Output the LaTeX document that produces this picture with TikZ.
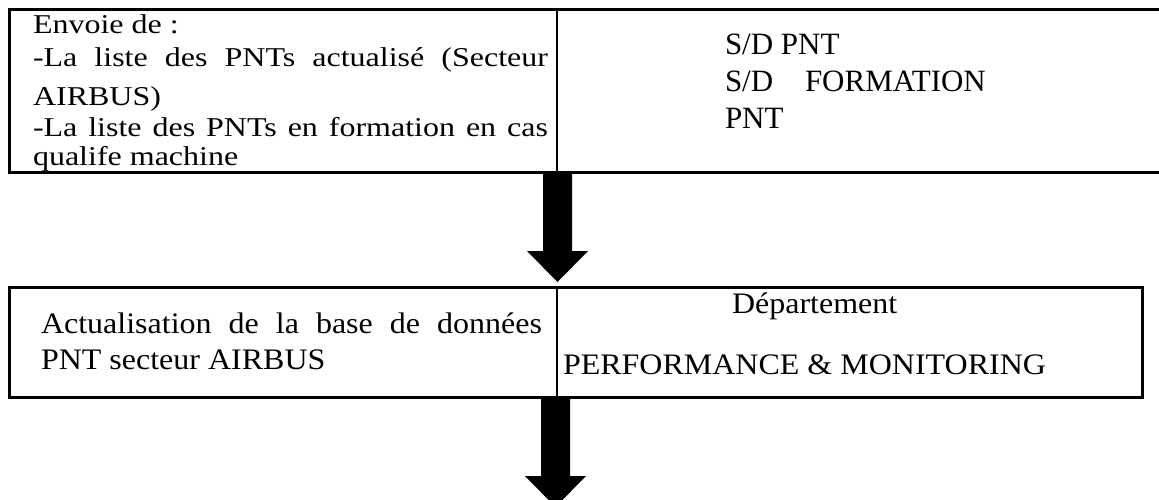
\documentclass[tikz,border=0pt]{standalone}
\usepackage{fontspec}
\setmainfont{Liberation Serif}
\usepackage{graphicx}
\begin{document}
\begin{tikzpicture}[x=1pt,y=-1pt,
  frame/.style={draw, line width=3pt, rectangle, inner sep=0pt, outer sep=0pt, anchor=north west},
  divider/.style={line width=2pt},
  txt/.style={anchor=base west, inner sep=0pt, outer sep=0pt, font=\fontsize{32}{32}\selectfont},
  txtr/.style={txt, font=\fontsize{31}{31}\selectfont},
  fatarrow/.style={fill=black}
]
\useasboundingbox (0,0) rectangle (1159,500);
\clip (0,0) rectangle (1159,500);

% boxes
\node[frame, minimum width=1180pt, minimum height=162pt] (topbox) at (9,10) {};
\node[frame, minimum width=1133pt, minimum height=110pt] (botbox) at (9,287) {};
\coordinate (d) at (557,0);
\draw[divider] (topbox.north -| d) -- (topbox.south -| d);
\draw[divider] (botbox.north -| d) -- (botbox.south -| d);

% top left text
\node[txt] (t1) at (33,34) {\scalebox{1}[0.85]{Envoie de :}};
\node[txt] (t2) at (33,67) {\scalebox{1}[0.85]{\makebox[515pt][s]{-La liste des PNTs actualisé (Secteur}}};
\node[txt] (t3) at (33,106) {\scalebox{1}[0.85]{AIRBUS)}};
\node[txt] (t4) at (33,137) {\scalebox{1}[0.85]{\makebox[515pt][s]{-La liste des PNTs en formation en cas}}};
\node[txt] (t5) at (33,165) {\scalebox{1}[0.85]{qualife machine}};

% top right text
\node[txtr] (r1) at (725,55) {S/D PNT};
\node[txtr] (r2) at (725,92) {S/D};
\node[txtr] (r2b) at (805,92) {FORMATION};
\node[txtr] (r3) at (725,129) {PNT};

% bottom left text
\node[txt] (b1) at (41,333) {\scalebox{1}[0.93]{\makebox[501pt][s]{Actualisation de la base de données}}};
\node[txt] (b2) at (41,369) {\scalebox{1}[0.93]{PNT secteur AIRBUS}};

% bottom right text
\node[txt] (b3) at (732,313) {\scalebox{1}[0.93]{Département}};
\node[txt] (b4) at (563,374) {\scalebox{1}[0.93]{PERFORMANCE \& MONITORING}};

% arrows
\coordinate (a1) at (557.5,0);
\coordinate (a2) at (555.5,0);
\fill[fatarrow] (topbox.south -| a1) ++(-14.5,0) -- ++(0,79) -- ++(-16,0) -- ++(30.5,31) -- ++(30.5,-31) -- ++(-16,0) -- ++(0,-79) -- cycle;
\fill[fatarrow] (botbox.south -| a2) ++(-14.5,0) -- ++(0,79) -- ++(-16,0) -- ++(30.5,31) -- ++(30.5,-31) -- ++(-16,0) -- ++(0,-79) -- cycle;
\end{tikzpicture}
\end{document}
